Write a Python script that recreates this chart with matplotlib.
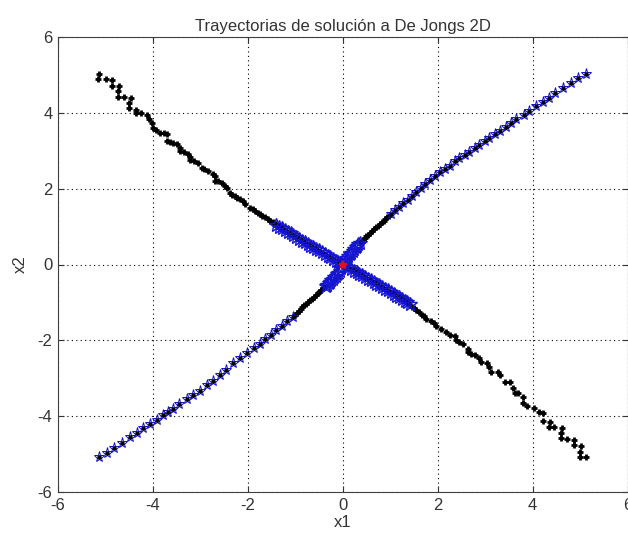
import matplotlib
matplotlib.use("Agg")
import matplotlib.pyplot as plt

# trayectoria superior izquierda (marcador +)
tl_x = [-5.14, -5.16, -4.99, -4.86, -4.86, -4.72, -4.74, -4.74, -4.61, -4.46, -4.51, -4.51,
        -4.36, -4.36, -4.25, -4.13, -4.08, -4.02, -4.00, -3.93, -3.85, -3.77, -3.70, -3.70,
        -3.64, -3.58, -3.49, -3.43, -3.43, -3.35, -3.26, -3.22, -3.22, -3.13, -3.05, -2.97,
        -2.92, -2.84, -2.74, -2.69, -2.69, -2.62, -2.55, -2.49, -2.44, -2.38, -2.33, -2.28,
        -2.23, -2.17, -2.11, -2.05, -1.96, -1.90, -1.84, -1.79, -1.75, -1.70, -1.64, -1.58,
        -1.53, -1.48, -1.43, -1.39, -1.34, -1.29, -1.24, -1.19, -1.14, -1.09, -1.04, -0.99,
        -0.94, -0.89, -0.84, -0.79, -0.74, -0.69, -0.64, -0.59, -0.54, -0.49, -0.44, -0.40,
        -0.35, -0.30, -0.26, -0.22, -0.18, -0.14, -0.10, -0.07, -0.04, -0.02]
tl_y = [5.03, 4.89, 4.89, 4.87, 4.71, 4.71, 4.58, 4.42, 4.42, 4.39, 4.26, 4.13,
        4.08, 4.00, 4.00, 3.95, 3.84, 3.74, 3.60, 3.55, 3.47, 3.46, 3.45, 3.26,
        3.24, 3.21, 3.18, 3.08, 3.00, 2.97, 2.92, 2.84, 2.76, 2.72, 2.68, 2.55,
        2.52, 2.47, 2.39, 2.33, 2.21, 2.19, 2.16, 2.08, 2.03, 1.89, 1.84, 1.80,
        1.76, 1.72, 1.68, 1.60, 1.50, 1.46, 1.41, 1.37, 1.34, 1.29, 1.25, 1.21,
        1.16, 1.13, 1.08, 1.03, 0.99, 0.96, 0.92, 0.88, 0.85, 0.81, 0.77, 0.73,
        0.69, 0.65, 0.62, 0.58, 0.54, 0.50, 0.47, 0.43, 0.39, 0.35, 0.31, 0.28,
        0.25, 0.21, 0.18, 0.15, 0.12, 0.09, 0.06, 0.04, 0.02, 0.01]

# trayectoria inferior derecha (marcador +)
br_x = [5.12, 4.99, 4.99, 5.01, 4.87, 4.87, 4.73, 4.60, 4.60, 4.63, 4.46, 4.34,
        4.36, 4.23, 4.23, 4.13, 4.02, 3.89, 3.80, 3.80, 3.69, 3.62, 3.59, 3.52,
        3.41, 3.31, 3.27, 3.13, 3.09, 3.03, 2.92, 2.88, 2.78, 2.70, 2.64, 2.64,
        2.53, 2.46, 2.39, 2.36, 2.25, 2.18, 2.08, 1.97, 1.92, 1.87, 1.76, 1.71,
        1.66, 1.60, 1.55, 1.50, 1.45, 1.40, 1.35, 1.30, 1.25, 1.20, 1.15, 1.10,
        1.05, 1.00, 0.95, 0.90, 0.85, 0.80, 0.75, 0.70, 0.65, 0.60, 0.55, 0.50,
        0.45, 0.40, 0.35, 0.30, 0.26, 0.22, 0.18, 0.14, 0.10, 0.07, 0.04, 0.02]
br_y = [-5.08, -5.08, -4.94, -4.79, -4.76, -4.63, -4.61, -4.58, -4.45, -4.32, -4.29, -4.29,
        -4.16, -4.13, -3.92, -3.89, -3.79, -3.74, -3.66, -3.49, -3.40, -3.40, -3.25, -3.10,
        -3.10, -2.92, -2.83, -2.83, -2.70, -2.61, -2.57, -2.46, -2.39, -2.35, -2.31, -2.22,
        -2.09, -2.04, -1.98, -1.89, -1.87, -1.78, -1.69, -1.61, -1.55, -1.49, -1.43, -1.37,
        -1.32, -1.26, -1.21, -1.16, -1.12, -1.04, -0.99, -0.95, -0.91, -0.87, -0.83, -0.80,
        -0.76, -0.72, -0.69, -0.65, -0.61, -0.58, -0.54, -0.50, -0.47, -0.43, -0.39, -0.36,
        -0.32, -0.28, -0.25, -0.21, -0.18, -0.15, -0.12, -0.09, -0.06, -0.04, -0.02, -0.01]

# tramos centrales (marcador +) de las trayectorias diagonales
tr_mid_x = [0.98, 0.94, 0.90, 0.86, 0.82, 0.78, 0.74, 0.70, 0.66, 0.62, 0.58, 0.54, 0.50, 0.46, 0.42, 0.38]
tr_mid_y = [1.29, 1.25, 1.20, 1.16, 1.11, 1.07, 1.02, 0.98, 0.93, 0.88, 0.84, 0.79, 0.74, 0.69, 0.64, 0.59]
bl_mid_x = [-1.01, -0.97, -0.93, -0.89, -0.85, -0.81, -0.77, -0.73, -0.69, -0.65, -0.61, -0.57,
            -0.53, -0.49, -0.45, -0.41, -0.37]
bl_mid_y = [-1.32, -1.27, -1.22, -1.18, -1.13, -1.08, -1.04, -0.99, -0.94, -0.90, -0.85, -0.81,
            -0.76, -0.72, -0.67, -0.63, -0.59]

# trayectoria superior derecha (marcador *)
tr_x = [5.13, 4.95, 4.81, 4.64, 4.48, 4.34, 4.22, 4.08, 3.92, 3.81, 3.66, 3.55, 3.43, 3.31,
        3.20, 3.09, 2.99, 2.88, 2.78, 2.67, 2.57, 2.46, 2.36, 2.25, 2.15, 2.04, 1.94, 1.84,
        1.74, 1.64, 1.55, 1.46, 1.37, 1.28, 1.19, 1.10, 1.02]
tr_y = [5.03, 4.93, 4.78, 4.65, 4.53, 4.40, 4.29, 4.18, 4.05, 3.95, 3.83, 3.74, 3.63, 3.53,
        3.44, 3.34, 3.25, 3.16, 3.07, 2.98, 2.89, 2.81, 2.72, 2.61, 2.52, 2.43, 2.33, 2.22,
        2.12, 2.01, 1.91, 1.81, 1.71, 1.62, 1.52, 1.43, 1.34]

# trayectoria inferior izquierda (marcador *)
bl_x = [-5.13, -4.97, -4.82, -4.66, -4.48, -4.33, -4.20, -4.06, -3.92, -3.78, -3.68, -3.57,
        -3.45, -3.29, -3.15, -3.01, -2.87, -2.73, -2.59, -2.45, -2.31, -2.16, -2.01, -1.88,
        -1.75, -1.63, -1.52, -1.40, -1.29, -1.17, -1.05]
bl_y = [-5.09, -4.97, -4.83, -4.70, -4.56, -4.44, -4.32, -4.21, -4.09, -3.97, -3.89, -3.80,
        -3.68, -3.56, -3.45, -3.33, -3.18, -3.08, -2.92, -2.77, -2.61, -2.47, -2.33, -2.21,
        -2.09, -1.97, -1.86, -1.74, -1.62, -1.50, -1.39]

# tramos finales (marcador *) cerca del optimo
tr_end_x = [0.36, 0.33, 0.30, 0.27, 0.24, 0.21, 0.18, 0.15, 0.12, 0.09, 0.06, 0.04]
tr_end_y = [0.58, 0.53, 0.49, 0.45, 0.40, 0.36, 0.31, 0.27, 0.22, 0.18, 0.13, 0.08]
bl_end_x = [-0.36, -0.33, -0.30, -0.27, -0.24, -0.21, -0.18, -0.15, -0.12, -0.09, -0.06, -0.03]
bl_end_y = [-0.58, -0.54, -0.50, -0.46, -0.42, -0.38, -0.34, -0.30, -0.26, -0.22, -0.17, -0.10]
tl_end_x = [-1.40, -1.34, -1.28, -1.22, -1.16, -1.10, -1.04, -0.98, -0.92, -0.86, -0.80, -0.74,
            -0.68, -0.62, -0.56, -0.50, -0.44, -0.38, -0.32, -0.26, -0.20, -0.15, -0.10, -0.05]
tl_end_y = [1.03, 0.99, 0.95, 0.91, 0.86, 0.82, 0.77, 0.72, 0.68, 0.63, 0.59, 0.55,
            0.50, 0.46, 0.42, 0.37, 0.32, 0.27, 0.23, 0.19, 0.14, 0.10, 0.07, 0.03]
br_end_x = [0.05, 0.11, 0.17, 0.23, 0.29, 0.35, 0.41, 0.47, 0.53, 0.59, 0.65, 0.71,
            0.77, 0.83, 0.89, 0.95, 1.01, 1.07, 1.13, 1.19, 1.25, 1.31, 1.36, 1.41]
br_end_y = [-0.03, -0.07, -0.12, -0.16, -0.20, -0.25, -0.29, -0.34, -0.38, -0.42, -0.46, -0.51,
            -0.55, -0.60, -0.64, -0.68, -0.73, -0.77, -0.82, -0.86, -0.91, -0.95, -0.99, -1.03]

optimo = (0.0, 0.0)
ticks = [-6, -4, -2, 0, 2, 4, 6]

plt.rcParams['font.family'] = ['Liberation Sans', 'DejaVu Sans']
txt_color = '#333333'

fig = plt.figure(figsize=(6.28, 5.38), dpi=100)
ax = fig.add_axes([58 / 628, 46 / 538, 569.5 / 628, 455 / 538])

plus_style = dict(linestyle='none', marker='+', color='k', markersize=4.5, markeredgewidth=2.0)
star_style = dict(linestyle='none', marker='*', color='#1010c8', markersize=8, markeredgewidth=0.7,
                  markerfacecolor='none')
blob_style = dict(linestyle='none', marker='*', color='#1515d0', markersize=10, markeredgewidth=1.0,
                  markerfacecolor='none')
dot_style = dict(linestyle='none', marker='.', color='k', markersize=4.5)

for xs, ys in [(tl_x, tl_y), (br_x, br_y), (tr_mid_x, tr_mid_y), (bl_mid_x, bl_mid_y)]:
    ax.plot(xs, ys, **plus_style)

for xs, ys in [(tr_x, tr_y), (bl_x, bl_y)]:
    ax.plot(xs, ys, **star_style)
    ax.plot(xs, ys, **dot_style)

for xs, ys in [(tr_end_x, tr_end_y), (bl_end_x, bl_end_y),
               (tl_end_x, tl_end_y), (br_end_x, br_end_y)]:
    ax.plot(xs, ys, **blob_style)

ax.plot([optimo[0]], [optimo[1]], linestyle='none', marker='*', color='#e01010',
        markersize=6, markeredgewidth=1.5)

ax.set_xlim(-6, 6)
ax.set_ylim(-6, 6)
ax.set_xticks(ticks)
ax.set_yticks(ticks)
ax.set_xticklabels([str(t) for t in ticks])
ax.set_yticklabels([str(t) for t in ticks])
ax.grid(True, color='k', linestyle=(0, (1, 3)), linewidth=0.8)
ax.tick_params(direction='in', length=4, width=0.8, top=True, right=True,
               labelsize=12, colors=txt_color, labelcolor=txt_color, pad=4)
for s in ax.spines.values():
    s.set_color('#404040')
    s.set_linewidth(0.8)

ax.set_title('Trayectorias de solución a De Jongs 2D', fontsize=12, color=txt_color, pad=4)
ax.set_xlabel('x1', fontsize=12, color=txt_color, labelpad=2)
ax.set_ylabel('x2', fontsize=12, color=txt_color, labelpad=7)

fig.savefig('out.png', dpi=100)
